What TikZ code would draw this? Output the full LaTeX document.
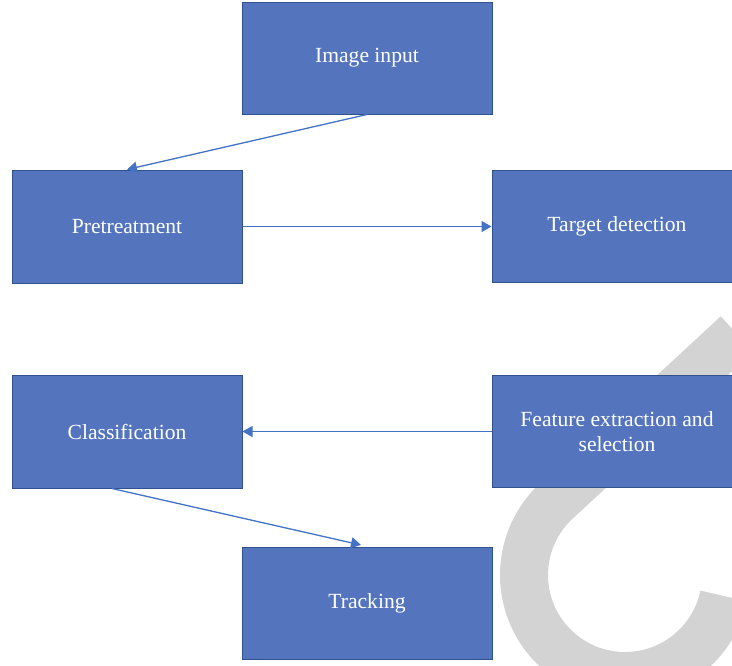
\documentclass[tikz,border=0pt]{standalone}
\usepackage{fontspec}
\setmainfont{Liberation Serif}
\usetikzlibrary{arrows.meta}
\definecolor{boxfill}{RGB}{84,116,189}
\definecolor{boxline}{RGB}{47,82,143}
\definecolor{arr}{RGB}{68,114,196}
\definecolor{wm}{RGB}{211,211,211}
\begin{document}
\begin{tikzpicture}[x=1pt,y=-1pt,
  box/.style={draw=boxline,line width=1pt,fill=boxfill,text=white,
    inner sep=0pt,align=center,font=\fontsize{21.6}{25}\selectfont},
  wide/.style={box,minimum width=250pt,minimum height=112pt},
  narrow/.style={box,minimum width=230pt,minimum height=113pt},
  conn/.style={draw=arr,line width=1.3pt,-{Triangle[length=10pt,width=11pt]}},
  wmark/.style={draw=wm,line width=48pt}]
\useasboundingbox (0,0) rectangle (732,665);
\clip (0,0) rectangle (732,665);
\fill[white] (0,0) rectangle (732,665);
% watermark
\draw[wmark] (737,334) -- (553.6,503.6) arc[start angle=225,end angle=12,radius=101];
% boxes
\node[wide] (img) at (367,58) {Image input};
\node[narrow] (pre) at (127,226.5) {Pretreatment};
\node[wide] (tgt) at (617,226.5) {Target detection};
\node[narrow] (cls) at (127,431.5) {Classification};
\node[wide] (feat) at (617,431.5) {Feature extraction and\\selection};
\node[wide] (trk) at (367,603.5) {Tracking};
% connectors
\draw[conn] (img.south) -- (pre.north);
\draw[conn] (pre.east) -- (tgt.west);
\draw[conn] (feat.west) -- (cls.east);
\draw[conn] ([xshift=-15pt]cls.south) -- ([xshift=-6pt,yshift=2pt]trk.north);
\end{tikzpicture}
\end{document}
